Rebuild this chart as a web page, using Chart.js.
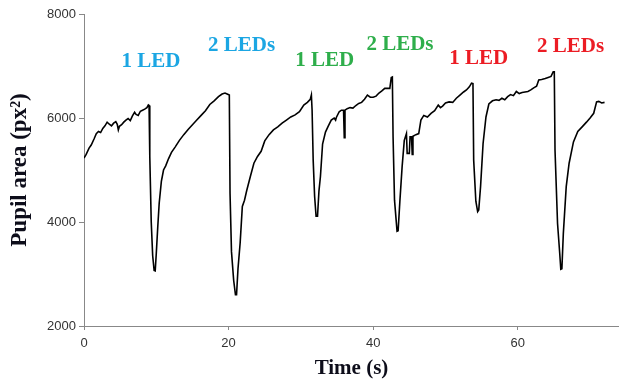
<!DOCTYPE html>
<html>
<head>
<meta charset="utf-8">
<script src="https://cdn.jsdelivr.net/npm/chart.js@4.4.1/dist/chart.umd.min.js"></script>
<style>
  html, body { margin: 0; padding: 0; background: #fff; }
  #wrap { width: 619px; height: 382px; }
</style>
</head>
<body>
<div id="wrap"><canvas id="c" width="619" height="382"></canvas></div>
<script>
// ---- data ----
const timeSec = [
  0.0,0.3,0.7,1.0,1.4,1.7,2.0,2.3,2.6,2.9,3.2,3.5,3.8,4.1,4.4,4.6,4.75,4.9,5.2,5.5,5.8,6.1,6.4,6.7,7.0,7.2,7.5,7.8,8.1,8.4,8.7,8.9,9.0,
  9.1,9.3,9.5,9.7,9.85,10.0,10.2,10.4,10.7,11.0,11.3,11.7,12.1,12.6,13.2,13.8,14.4,15.0,15.6,16.2,16.8,17.4,18.0,18.6,19.1,19.5,19.8,20.1,
  20.2,20.4,20.7,20.95,21.1,21.3,21.6,21.9,22.2,22.5,23.0,23.5,24.0,24.5,25.0,25.6,26.2,26.8,27.4,28.0,28.6,29.2,29.8,30.4,30.9,31.3,31.45,
  31.55,31.7,31.9,32.1,32.3,32.5,32.7,33.0,33.4,33.8,34.2,34.6,34.8,34.9,35.3,35.6,35.9,36.0,36.1,36.4,36.8,37.2,37.6,38.0,38.4,38.8,39.2,39.6,40.0,40.4,40.8,41.2,41.6,42.0,42.3,42.5,42.65,
  42.75,42.95,43.3,43.45,43.7,44.0,44.3,44.6,44.7,45.0,45.1,45.3,45.4,45.5,45.9,46.3,46.6,47.0,47.5,48.0,48.5,49.0,49.3,49.6,50.0,50.5,51.0,51.5,52.0,52.5,52.9,53.3,53.6,53.8,
  53.9,54.2,54.45,54.6,54.85,55.2,55.6,56.0,56.5,57.0,57.4,57.8,58.2,58.6,59.0,59.4,59.8,60.2,60.6,61.0,61.4,61.8,62.2,62.6,62.9,63.3,63.8,64.2,64.6,64.9,65.05,
  65.15,65.5,65.8,65.95,66.1,66.3,66.7,67.1,67.7,68.3,68.9,69.5,70.0,70.5,70.9,71.2,71.6,72.0
];
const pupilArea = [
  5230,5300,5420,5480,5600,5700,5740,5720,5800,5850,5920,5880,5850,5900,5930,5880,5770,5840,5870,5920,5960,5990,5950,6040,6110,6070,6050,6130,6150,6170,6200,6250,6240,
  5260,4000,3350,3070,3060,3400,3900,4360,4780,5000,5080,5220,5340,5440,5570,5680,5780,5870,5960,6050,6140,6260,6330,6410,6460,6480,6460,6440,
  4550,3430,2880,2600,2600,3100,3600,4300,4420,4600,4870,5130,5260,5360,5560,5680,5770,5830,5900,5960,6020,6060,6120,6250,6300,6360,6440,
  6150,5190,4490,4110,4110,4600,4870,5500,5730,5850,5960,6000,5960,6010,6120,6150,6150,5620,6150,6180,6200,6190,6240,6280,6300,6360,6440,6400,6400,6420,6480,6520,6570,6570,6570,6780,6790,
  5640,4420,3820,3830,4420,5060,5570,5700,5320,5320,5640,5640,5300,5650,5680,5700,5960,6050,6020,6090,6140,6250,6200,6230,6290,6310,6300,6380,6440,6500,6540,6600,6670,6660,
  5190,4400,4200,4230,4680,5510,6020,6270,6330,6350,6340,6380,6350,6410,6450,6430,6510,6470,6490,6500,6510,6540,6580,6610,6730,6740,6760,6780,6800,6890,6890,
  5380,3970,3400,3090,3100,3780,4680,5130,5540,5740,5830,5920,6000,6090,6310,6320,6290,6300
];
const xTicks = [0, 20, 40, 60];
const yTicks = [2000, 4000, 6000, 8000];
const stimulusLabels = ['1 LED', '2 LEDs', '1 LED', '2 LEDs', '1 LED', '2 LEDs'];
const stimulusTimes = [9.25, 21.8, 33.3, 43.7, 54.6, 67.3];

// ---- presentation ----
const labelColors = ['#1ba6e3', '#1ba6e3', '#2eae4b', '#2eae4b', '#ec1c24', '#ec1c24'];
const labelLevels = [7080, 7390, 7100, 7420, 7140, 7370];

const points = timeSec.map((t, i) => ({ x: t, y: pupilArea[i] }));

const annotationPlugin = {
  id: 'ledLabels',
  afterDatasetsDraw(chart) {
    const { ctx, scales: { x, y } } = chart;
    ctx.save();
    ctx.font = 'bold 21px "Liberation Serif", "Times New Roman", serif';
    ctx.textAlign = 'center';
    ctx.textBaseline = 'middle';
    stimulusLabels.forEach((txt, i) => {
      ctx.fillStyle = labelColors[i];
      ctx.fillText(txt, x.getPixelForValue(stimulusTimes[i]), y.getPixelForValue(labelLevels[i]));
    });
    ctx.restore();
  }
};

new Chart(document.getElementById('c'), {
  type: 'line',
  data: {
    datasets: [{
      data: points,
      borderColor: '#000',
      borderWidth: 1.6,
      pointRadius: 0,
      tension: 0,
      fill: false
    }]
  },
  options: {
    responsive: false,
    animation: false,
    devicePixelRatio: 1,
    layout: { padding: { top: 14, right: 0, left: 0, bottom: 0 } },
    plugins: { legend: { display: false }, tooltip: { enabled: false } },
    scales: {
      x: {
        type: 'linear',
        min: 0,
        max: 74,
        afterBuildTicks(scale) { scale.ticks = xTicks.map(v => ({ value: v })); },
        afterFit(scale) { scale.height = 56; },
        grid: { drawOnChartArea: false, drawTicks: true, tickLength: 4, color: '#888' },
        border: { color: '#888', width: 1 },
        ticks: { color: '#333', font: { family: '"Liberation Sans", Arial, sans-serif', size: 13 }, padding: 6, maxRotation: 0,
                 callback: v => String(v) },
        title: {
          display: true,
          text: 'Time (s)',
          color: '#0d0d1a',
          font: { family: '"Liberation Serif", "Times New Roman", serif', size: 21, weight: 'bold' },
          padding: { top: 0, bottom: 1 }
        }
      },
      y: {
        min: 2000,
        max: 8000,
        afterBuildTicks(scale) { scale.ticks = yTicks.map(v => ({ value: v })); },
        afterFit(scale) { scale.width = 84; },
        grid: { drawOnChartArea: false, drawTicks: true, tickLength: 5, color: '#888' },
        border: { color: '#888', width: 1 },
        ticks: { color: '#333', font: { family: '"Liberation Sans", Arial, sans-serif', size: 13 }, padding: 3,
                 callback: v => String(v) },
        title: {
          display: true,
          text: 'Pupil area (px²)',
          color: '#0d0d1a',
          font: { family: '"Liberation Serif", "Times New Roman", serif', size: 23, weight: 'bold' },
          padding: { top: 6, bottom: 0 }
        }
      }
    }
  },
  plugins: [annotationPlugin]
});
</script>
</body>
</html>
